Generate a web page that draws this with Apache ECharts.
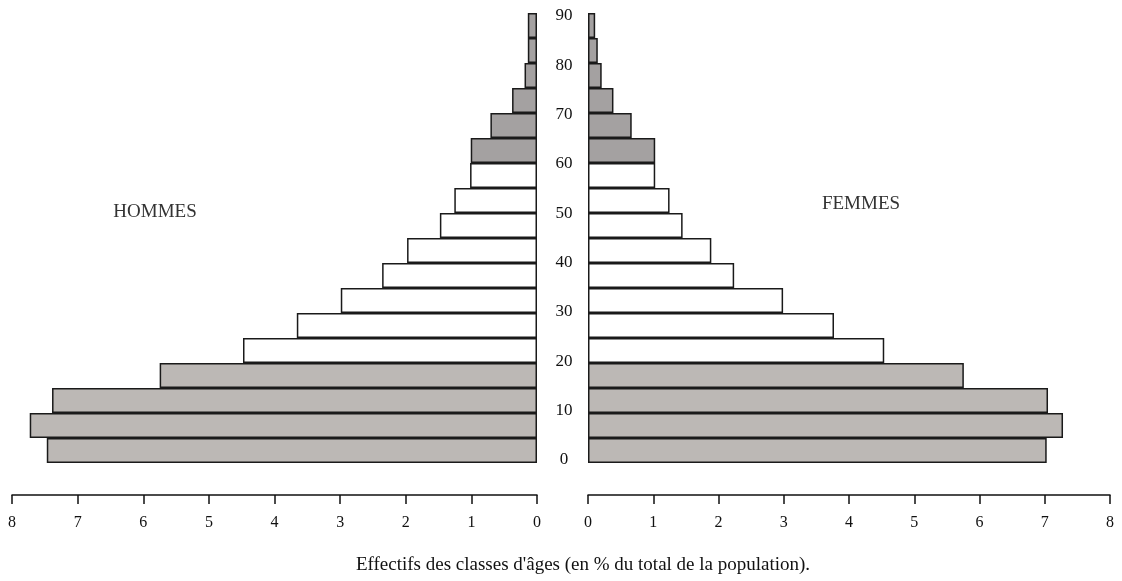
<!DOCTYPE html>
<html>
<head>
<meta charset="utf-8">
<script src="https://cdn.jsdelivr.net/npm/echarts@6/dist/echarts.min.js"></script>
<style>
html,body{margin:0;padding:0;background:#fff;}
#chart{width:1122px;height:581px;}
</style>
</head>
<body>
<div id="chart"></div>
<script>
// Age groups (5-year classes, bottom to top)
const ageGroups = ['0-4','5-9','10-14','15-19','20-24','25-29','30-34','35-39','40-44','45-49','50-54','55-59','60-64','65-69','70-74','75-79','80-84','85+'];
// Share of total population (%)
const hommes = [7.47, 7.73, 7.39, 5.75, 4.48, 3.66, 2.99, 2.36, 1.98, 1.48, 1.26, 1.02, 1.01, 0.71, 0.38, 0.19, 0.14, 0.14];
const femmes = [7.03, 7.28, 7.05, 5.76, 4.54, 3.77, 2.99, 2.24, 1.89, 1.45, 1.25, 1.03, 1.03, 0.67, 0.39, 0.21, 0.15, 0.11];
// Tick labels
const pctTicks = [0,1,2,3,4,5,6,7,8];
const ageTicks = [0,10,20,30,40,50,60,70,80,90];
const sideLabels = ['HOMMES','FEMMES'];
const axisTitle = "Effectifs des classes d'âges (en % du total de la population).";

const SERIF = "'Liberation Serif','Times New Roman',serif";
const LIGHT = '#bcb8b5', DARK = '#a4a1a1', WHITE = '#ffffff';
function barColor(p){
  const i = p.dataIndex;
  if (i < 4) return LIGHT;
  if (i < 12) return WHITE;
  return DARK;
}

const chart = echarts.init(document.getElementById('chart'), null, {renderer:'canvas'});

const pctAxis = (gridIndex, inverse) => ({
  type:'value', gridIndex, min:pctTicks[0], max:pctTicks[pctTicks.length-1], interval:1, inverse,
  position:'bottom', offset:32,
  axisLine:{show:true, lineStyle:{color:'#111', width:1.5}},
  axisTick:{show:true, length:9, inside:false, lineStyle:{color:'#111', width:1.5}},
  axisLabel:{show:true, margin:20, color:'#111', fontFamily:SERIF, fontSize:16},
  splitLine:{show:false}
});
const catAxis = (gridIndex) => ({
  type:'category', gridIndex, data:ageGroups, show:false,
  axisLine:{show:false}, axisTick:{show:false}, axisLabel:{show:false}
});

chart.setOption({
  backgroundColor:'#fff',
  animation:false,
  grid:[
    {left:12, top:13, width:525, height:450},
    {left:588, top:13, width:522, height:450},
    {left:549, top:16, width:30, height:444}
  ],
  xAxis:[
    pctAxis(0, true),
    pctAxis(1, false),
    {type:'value', gridIndex:2, show:false, min:0, max:1}
  ],
  yAxis:[
    catAxis(0),
    catAxis(1),
    {type:'value', gridIndex:2, min:ageTicks[0], max:ageTicks[ageTicks.length-1], interval:10,
     position:'left',
     axisLine:{show:false}, axisTick:{show:false}, splitLine:{show:false},
     axisLabel:{show:true, margin:-15, align:'center', color:'#111', fontFamily:SERIF, fontSize:17}}
  ],
  series:[
    {type:'bar', xAxisIndex:0, yAxisIndex:0, data:hommes, barCategoryGap:'0%',
     itemStyle:{color:barColor, borderColor:'#1a1a1a', borderWidth:1.5}, silent:true},
    {type:'bar', xAxisIndex:1, yAxisIndex:1, data:femmes, barCategoryGap:'0%',
     itemStyle:{color:barColor, borderColor:'#1a1a1a', borderWidth:1.5}, silent:true}
  ],
  graphic:[
    {type:'text', x:155, y:212, style:{text:sideLabels[0], fill:'#333', font:'19px '+SERIF, textAlign:'center', textVerticalAlign:'middle'}},
    {type:'text', x:861, y:204, style:{text:sideLabels[1], fill:'#333', font:'19px '+SERIF, textAlign:'center', textVerticalAlign:'middle'}},
    {type:'text', x:583, y:565, style:{text:axisTitle, fill:'#111', font:'19px '+SERIF, textAlign:'center', textVerticalAlign:'middle'}}
  ]
});
</script>
</body>
</html>
